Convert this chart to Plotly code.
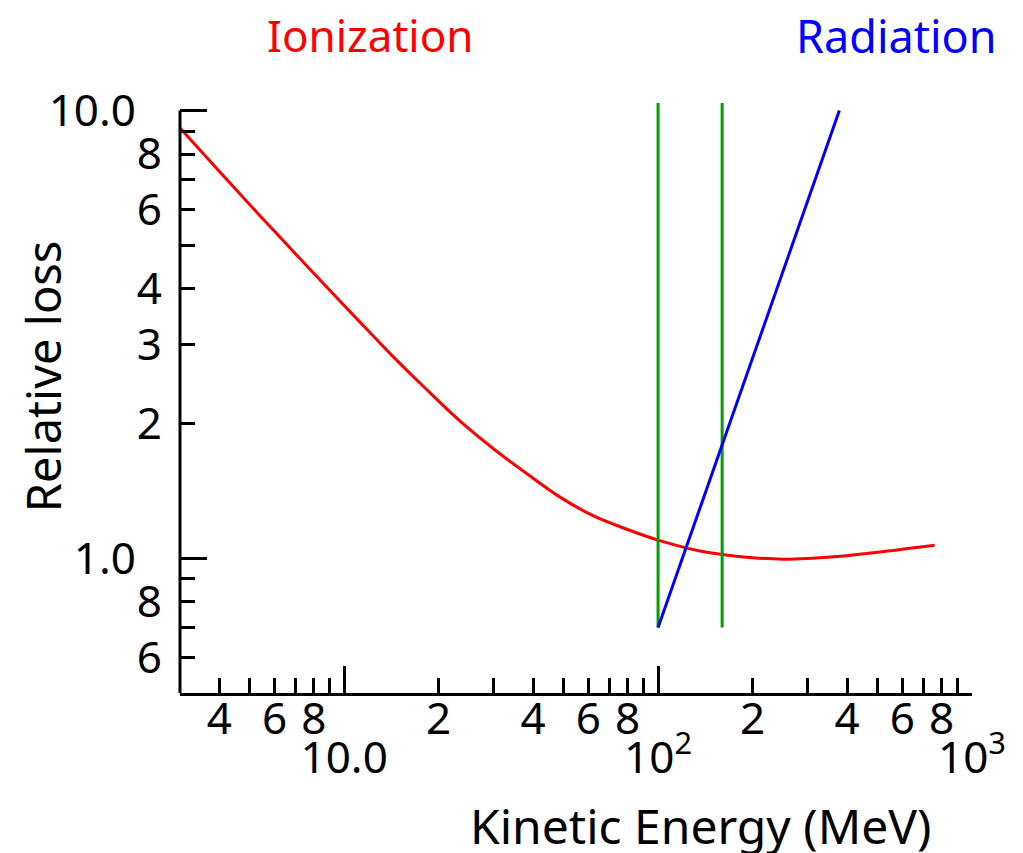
import math
import plotly.graph_objects as go

# ---- data ----
ion_energy = [3, 4, 5, 6, 8, 10, 12, 14.4, 18, 23.6, 30.1, 38.4, 49, 62.3, 79.5, 100, 136, 160, 200, 250, 300, 380, 500, 760]
ion_loss = [9.15, 7.32, 6.17, 5.375, 4.33, 3.67, 3.21, 2.81, 2.41, 2.014, 1.75, 1.54, 1.366, 1.243, 1.161, 1.098, 1.038, 1.02, 1.003, 0.995, 0.9986, 1.01, 1.031, 1.069]

rad_energy = [100, 378]
rad_loss = [0.7, 10]

crit1_energy = [100, 100]
crit2_energy = [160, 160]
crit_loss = [0.7, 10.4]

x_range = [3, 1000]
y_range = [0.5, 10.4]

x_major_vals = [10, 100, 1000]
x_major_text = ["10.0", "10<sup>2</sup>", "10<sup>3</sup>"]
x_minor_vals = [4, 5, 6, 7, 8, 9, 20, 30, 40, 50, 60, 70, 80, 90, 200, 300, 400, 500, 600, 700, 800, 900]
x_minor_label_vals = [4, 6, 8, 20, 40, 60, 80, 200, 400, 600, 800]
x_minor_label_text = ["4", "6", "8", "2", "4", "6", "8", "2", "4", "6", "8"]

y_major_vals = [1, 10]
y_major_text = ["1.0", "10.0"]
y_minor_vals = [0.6, 0.7, 0.8, 0.9, 2, 3, 4, 5, 6, 7, 8, 9]
y_minor_label_vals = [0.6, 0.8, 2, 3, 4, 6, 8]
y_minor_label_text = ["6", "8", "2", "3", "4", "6", "8"]

FONT = "Noto Sans"
FS = 44

fig = go.Figure()
fig.add_trace(go.Scatter(x=ion_energy, y=ion_loss, mode="lines", line=dict(color="red", width=3, shape="spline", smoothing=1.0), xaxis="x", yaxis="y", showlegend=False))
fig.add_trace(go.Scatter(x=crit1_energy, y=crit_loss, mode="lines", line=dict(color="#00A000", width=3), xaxis="x", yaxis="y", showlegend=False))
fig.add_trace(go.Scatter(x=crit2_energy, y=crit_loss, mode="lines", line=dict(color="#00A000", width=3), xaxis="x", yaxis="y", showlegend=False))
fig.add_trace(go.Scatter(x=rad_energy, y=rad_loss, mode="lines", line=dict(color="blue", width=3), xaxis="x2", yaxis="y2", showlegend=False))

lx = [math.log10(v) for v in x_range]
ly = [math.log10(v) for v in y_range]

fig.update_layout(
    width=1023, height=853,
    margin=dict(l=172, r=59, t=95, b=168, autoexpand=False),
    plot_bgcolor="white", paper_bgcolor="white",
    font=dict(family=FONT, size=FS, color="black"),
    xaxis=dict(type="log", range=lx, showgrid=False, zeroline=False, automargin=False,
               showline=True, linecolor="black", linewidth=3,
               ticks="inside", ticklen=27, tickwidth=3, tickcolor="black",
               tickmode="array", tickvals=x_major_vals, ticktext=x_major_text,
               ticklabelstandoff=24,
               minor=dict(tickmode="array", tickvals=x_minor_vals, ticks="inside", ticklen=15, tickwidth=3, tickcolor="black", showgrid=False),
               tickfont=dict(family=FONT, size=FS)),
    yaxis=dict(type="log", range=ly, showgrid=False, zeroline=False, automargin=False,
               showline=False,
               ticks="inside", ticklen=27, tickwidth=3, tickcolor="black",
               tickmode="array", tickvals=y_major_vals, ticktext=y_major_text,
               ticklabelstandoff=43,
               minor=dict(tickmode="array", tickvals=y_minor_vals, ticks="inside", ticklen=15, tickwidth=3, tickcolor="black", showgrid=False),
               tickfont=dict(family=FONT, size=FS)),
    xaxis2=dict(type="log", range=lx, overlaying="x", anchor="y2", side="bottom", automargin=False,
                showgrid=False, zeroline=False, showline=False, ticks="",
                tickmode="array", tickvals=x_minor_label_vals, ticktext=x_minor_label_text,
                ticklabelstandoff=-4, tickfont=dict(family=FONT, size=FS)),
    yaxis2=dict(type="log", range=ly, overlaying="y", anchor="x2", side="left", automargin=False,
                showgrid=False, zeroline=False, showline=False, ticks="",
                tickmode="array", tickvals=y_minor_label_vals, ticktext=y_minor_label_text,
                ticklabelstandoff=17, tickfont=dict(family=FONT, size=FS)),
)

# y axis line from 0.5 to 10
fig.add_shape(type="line", xref="paper", yref="y", x0=0, x1=0, y0=y_range[0], y1=10,
              line=dict(color="black", width=3))

fig.add_annotation(text="Ionization", xref="paper", yref="paper", x=0.24, y=1.115,
                   showarrow=False, font=dict(color="red", size=FS, family=FONT), xanchor="center", yanchor="middle")
fig.add_annotation(text="Radiation", xref="paper", yref="paper", x=0.905, y=1.115,
                   showarrow=False, font=dict(color="blue", size=45, family=FONT), xanchor="center", yanchor="middle")
fig.add_annotation(text="Relative loss", xref="paper", yref="paper", x=-0.173, y=0.537, textangle=-90,
                   showarrow=False, font=dict(size=47, family=FONT), xanchor="center", yanchor="middle")
fig.add_annotation(text="Kinetic Energy (MeV)", xref="paper", yref="paper", x=0.658, y=-0.224,
                   showarrow=False, font=dict(size=48, family=FONT), xanchor="center", yanchor="middle")

fig.write_html("out.html")
